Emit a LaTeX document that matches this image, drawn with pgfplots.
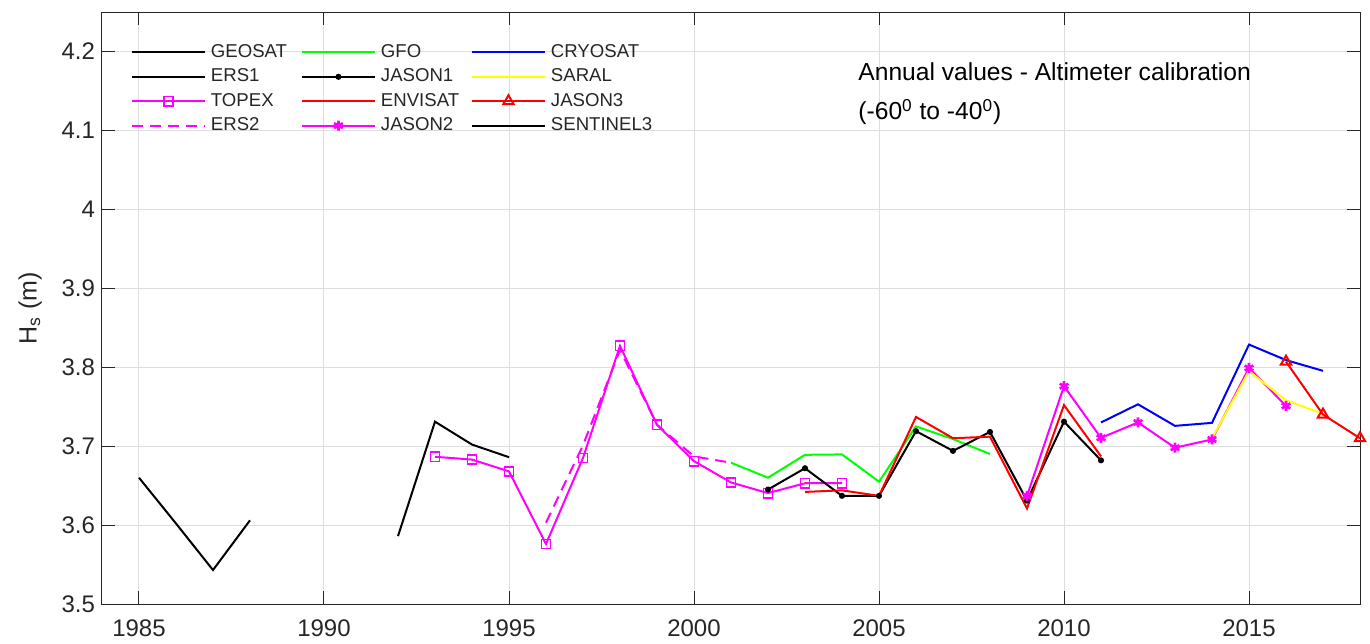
\documentclass[border=0pt]{standalone}
\usepackage{fontspec}
\setmainfont{Liberation Sans}
\usepackage{pgfplots}
\pgfplotsset{compat=1.18}
\definecolor{axgray}{HTML}{262626}
\definecolor{cgreen}{RGB}{0,255,0}
\definecolor{cblue}{RGB}{0,0,255}
\definecolor{cyellow}{RGB}{255,255,0}
\definecolor{cred}{RGB}{255,0,0}
\definecolor{cmag}{RGB}{255,0,255}
\begin{document}
\begin{tikzpicture}
\useasboundingbox (-51pt,-19.5pt) rectangle (634pt,302pt);
\begin{axis}[
  at={(0,0)}, anchor=south west,
  scale only axis, width=629pt, height=296pt,
  xmin=1984, xmax=2018, ymin=3.5, ymax=4.25,
  xtick={1985,1990,1995,2000,2005,2010,2015},
  ytick={3.5,3.6,3.7,3.8,3.9,4.0,4.1,4.2},
  grid=major, major grid style={black!13, line width=0.5pt},
  tick align=inside, major tick length=6.3pt,
  axis line style={axgray, line width=0.5pt},
  tick style={axgray, line width=0.5pt},
  ticklabel style={font=\fontsize{12}{14}\selectfont, text=axgray},
  /pgf/number format/assume math mode=true,
  x tick label style={/pgf/number format/1000 sep={}, yshift=-4.5pt},
  ylabel={H\textsubscript{s} (m)},
  ylabel style={at={(axis description cs:-0.0572,0.5)}, anchor=center, font=\fontsize{12.5}{14}\selectfont, text=axgray},
  clip=false,
  legend columns=3,
  legend image code/.code={\draw[mark repeat=2,mark phase=2] plot coordinates {(0pt,0pt) (18.25pt,0pt) (36.5pt,0pt)};},
  legend style={at={(axis description cs:0.0227,0.951)}, anchor=north west, draw=none, fill=none, inner sep=0pt,
    row sep=1.2pt, column sep=0pt,
    nodes={font=\fontsize{9.3}{11}\selectfont, text=axgray, text width=42.5pt, align=left, inner xsep=2.5pt, inner ysep=1pt, text height=7pt, text depth=2pt}},
  legend cell align=left,
]
% legend entries (row-wise order)
\addlegendimage{black, line width=1pt}
\addlegendentry{GEOSAT}
\addlegendimage{cgreen, line width=1pt}
\addlegendentry{GFO}
\addlegendimage{cblue, line width=1pt}
\addlegendentry{CRYOSAT}
\addlegendimage{black, line width=1pt}
\addlegendentry{ERS1}
\addlegendimage{black, line width=1pt, mark=*, mark size=1pt}
\addlegendentry{JASON1}
\addlegendimage{cyellow, line width=1pt}
\addlegendentry{SARAL}
\addlegendimage{cmag, line width=1pt, mark=square, mark size=2.3pt, mark options={solid, line width=0.8pt}}
\addlegendentry{TOPEX}
\addlegendimage{cred, line width=1pt}
\addlegendentry{ENVISAT}
\addlegendimage{cred, line width=1pt, mark=triangle, mark size=3pt, mark options={solid, line width=1pt}}
\addlegendentry{JASON3}
\addlegendimage{cmag, line width=1pt, dash pattern=on 5.5pt off 3.5pt}
\addlegendentry{ERS2}
\addlegendimage{cmag, line width=1pt, mark=asterisk, mark size=2.5pt, mark options={solid, line width=1.3pt}}
\addlegendentry{JASON2}
\addlegendimage{black, line width=1pt}
\addlegendentry{SENTINEL3}

% GEOSAT
\addplot[black, line width=1pt, forget plot] coordinates {
 (1985,3.660) (1986,3.602) (1987,3.543) (1988,3.606)};
% ERS1
\addplot[black, line width=1pt, forget plot] coordinates {
 (1992,3.586) (1993,3.731) (1994,3.702) (1995,3.686)};
% TOPEX
\addplot[cmag, line width=1pt, mark=square, mark size=2.3pt, mark options={solid, line width=0.8pt}, forget plot] coordinates {
 (1993,3.6865) (1994,3.683) (1995,3.668) (1996,3.576) (1997,3.685) (1998,3.827)
 (1999,3.727) (2000,3.681) (2001,3.654) (2002,3.6405) (2003,3.653) (2004,3.653)};
% ERS2
\addplot[cmag, line width=1pt, dash pattern=on 5.5pt off 3.5pt, forget plot] coordinates {
 (1996,3.603) (1997,3.701) (1998,3.822) (1999,3.727) (2000,3.687) (2001,3.679)};
% GFO
\addplot[cgreen, line width=1pt, forget plot] coordinates {
 (2001,3.679) (2002,3.660) (2003,3.689) (2004,3.6895) (2005,3.655) (2006,3.725) (2007,3.709) (2008,3.690)};
% JASON1
\addplot[black, line width=1pt, mark=*, mark size=1pt, forget plot] coordinates {
 (2002,3.645) (2003,3.672) (2004,3.637) (2005,3.637) (2006,3.719) (2007,3.694)
 (2008,3.718) (2009,3.631) (2010,3.731) (2011,3.682)};
% ENVISAT
\addplot[cred, line width=1pt, forget plot] coordinates {
 (2003,3.642) (2004,3.644) (2005,3.637) (2006,3.737) (2007,3.710) (2008,3.712)
 (2009,3.621) (2010,3.752) (2011,3.687)};
% JASON2
\addplot[cmag, line width=1pt, mark=asterisk, mark size=2.5pt, mark options={solid, line width=1.3pt}, forget plot] coordinates {
 (2009,3.637) (2010,3.776) (2011,3.7105) (2012,3.730) (2013,3.698) (2014,3.7085) (2015,3.799) (2016,3.751)};
% CRYOSAT
\addplot[cblue, line width=1pt, forget plot] coordinates {
 (2011,3.730) (2012,3.753) (2013,3.7257) (2014,3.7295) (2015,3.8287) (2016,3.809) (2017,3.7954)};
% SARAL
\addplot[cyellow, line width=1pt, forget plot] coordinates {
 (2014,3.710) (2015,3.795) (2016,3.758) (2017,3.741)};
% JASON3
\addplot[cred, line width=1pt, mark=triangle, mark size=3pt, mark options={solid, line width=1pt}, forget plot] coordinates {
 (2016,3.807) (2017,3.740) (2018,3.710)};

\node[anchor=west, inner sep=0pt, font=\fontsize{12.3}{14}\selectfont, text=black] at (rel axis cs:0.601,0.899) {Annual values - Altimeter calibration};
\node[anchor=west, inner sep=0pt, font=\fontsize{12.3}{14}\selectfont, text=black] at (rel axis cs:0.601,0.831) {(-60\textsuperscript{0} to -40\textsuperscript{0})};
\end{axis}
\end{tikzpicture}
\end{document}
